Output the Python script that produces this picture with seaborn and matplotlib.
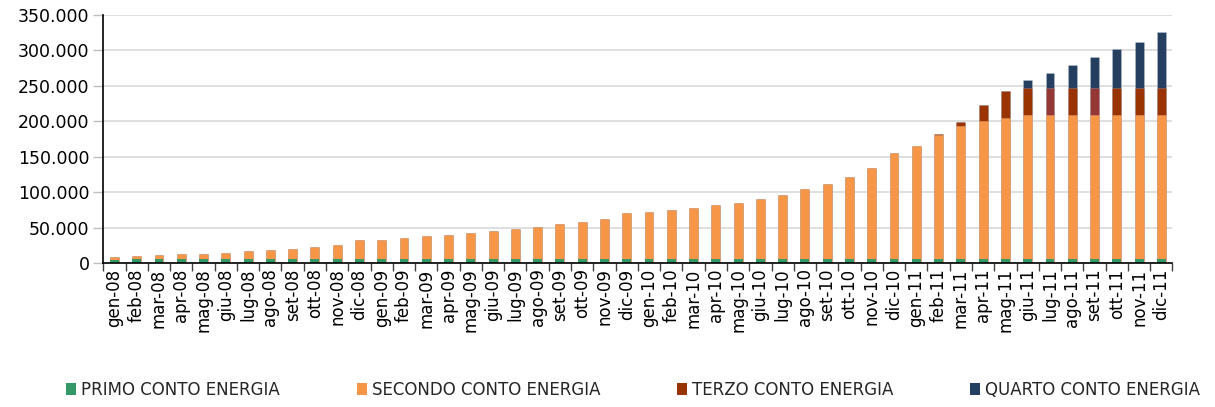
import numpy as np
import pandas as pd
import matplotlib
matplotlib.use("Agg")
import matplotlib.pyplot as plt
from matplotlib.patches import Patch
from matplotlib.ticker import FuncFormatter, MultipleLocator
import seaborn as sns

# mesi (gen-08 ... dic-11)
mesi_nomi = ["gen", "feb", "mar", "apr", "mag", "giu", "lug", "ago", "set", "ott", "nov", "dic"]
anni = ["08", "09", "10", "11"]
mesi = [f"{m}-{a}" for a in anni for m in mesi_nomi]

# numero impianti per conto energia
primo = [4800, 4900, 5000, 5000, 5100, 5100, 5200, 5200, 5300, 5300, 5400, 5400,
         5500, 5500, 5600, 5600, 5700, 5700, 5700, 5700, 5700, 5700, 5700, 5700,
         5700, 5700, 5700, 5700, 5700, 5700, 5700, 5700, 5700, 5700, 5700, 5700,
         5700, 5700, 5700, 5700, 5700, 5700, 5700, 5700, 5700, 5700, 5700, 5700]
secondo = [3700, 5000, 6300, 7200, 8100, 9000, 11300, 13100, 14900, 17300, 20000, 27100,
           27500, 29800, 32100, 33900, 37200, 39500, 42300, 45700, 49000, 52300, 56000, 64900,
           66900, 69200, 72000, 75400, 79600, 84700, 90300, 98000, 106400, 115800, 128500, 149200,
           160100, 175100, 187400, 194900, 199100, 202500, 202500, 202500, 202500, 202500, 202500, 202500]
terzo = [0] * 36 + [0, 1900, 6100, 22100, 37700, 38100, 38100, 38100, 38100, 38100, 38100, 38100]
quarto = [0] * 36 + [0, 0, 0, 0, 0, 11700, 21200, 32900, 43800, 55100, 65400, 79100]

serie = ["PRIMO CONTO ENERGIA", "SECONDO CONTO ENERGIA", "TERZO CONTO ENERGIA", "QUARTO CONTO ENERGIA"]
colori = ["#339966", "#F79646", "#993300", "#243F60"]
colore_terzo_alt = "#953735"  # lug-11 e set-11

df = pd.DataFrame({"mese": mesi, "primo": primo, "secondo": secondo, "terzo": terzo, "quarto": quarto})
df["c1"] = df["primo"]
df["c2"] = df["c1"] + df["secondo"]
df["c3"] = df["c2"] + df["terzo"]
df["c4"] = df["c3"] + df["quarto"]

sns.set_theme(style="white")
plt.rcParams["font.family"] = ["DejaVu Sans"]

fig, ax = plt.subplots(figsize=(12.15, 4.07), dpi=100)
fig.subplots_adjust(left=0.085, right=0.965, top=0.963, bottom=0.354)

larg = 0.4
edge = dict(edgecolor=(1, 1, 1, 0.3), linewidth=0.4)
sns.barplot(data=df, x="mese", y="c4", color=colori[3], saturation=1, width=larg, ax=ax, **edge)
pal_terzo = {m: (colore_terzo_alt if m in ("lug-11", "set-11") else colori[2]) for m in mesi}
sns.barplot(data=df, x="mese", y="c3", hue="mese", palette=pal_terzo, saturation=1,
            width=larg, legend=False, ax=ax, **edge)
sns.barplot(data=df, x="mese", y="c2", color=colori[1], saturation=1, width=larg, ax=ax, **edge)
sns.barplot(data=df, x="mese", y="c1", color=colori[0], saturation=1, width=larg, ax=ax,
            edgecolor="none", linewidth=0)

ax.set_xlim(-0.5, len(mesi) - 0.5)
ax.set_ylim(0, 350000)
ax.yaxis.set_major_locator(MultipleLocator(50000))
ax.yaxis.set_major_formatter(FuncFormatter(lambda v, p: f"{int(v):,}".replace(",", ".")))
ax.set_xlabel("")
ax.set_ylabel("")

ax.grid(axis="y", color="#D9D9D9", linewidth=1.2)
ax.set_axisbelow(True)
for s in ["top", "right"]:
    ax.spines[s].set_visible(False)
for s in ["left", "bottom"]:
    ax.spines[s].set_color("black")
    ax.spines[s].set_linewidth(1.2)

ax.set_xticks(range(len(mesi)))
ax.set_xticklabels(mesi, rotation=90, fontsize=12, color="black")
ax.set_xticks(np.arange(-0.5, len(mesi), 1), minor=True)
ax.tick_params(axis="x", which="major", length=0, pad=4)
ax.tick_params(axis="x", which="minor", length=6, width=1, color="#404040", direction="out", bottom=True)
ax.tick_params(axis="y", labelsize=12.5, labelcolor="black", length=7, width=1, color="#BFBFBF", left=True, pad=3)

handles = [Patch(facecolor=c, edgecolor="none") for c in colori]
fig.legend(handles, serie, loc="center", bbox_to_anchor=(0.521, 0.042), ncol=4, frameon=False,
           fontsize=12, handlelength=0.6, handleheight=0.8, handletextpad=0.3, columnspacing=4.6)

fig.savefig("out.png", dpi=100)
